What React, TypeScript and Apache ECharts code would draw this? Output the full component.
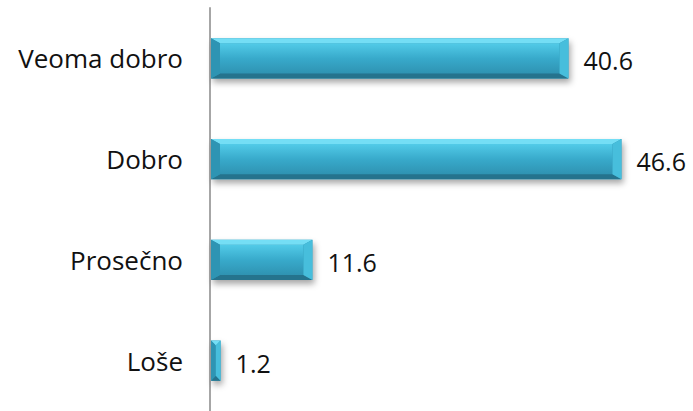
import React, { useEffect, useRef } from "react";
import * as echarts from "echarts";

const categories = ["Veoma dobro", "Dobro", "Prosečno", "Loše"];
const values = [40.6, 46.6, 11.6, 1.2];
const axisMax = 50;

export default function App() {
  const ref = useRef<HTMLDivElement>(null);
  useEffect(() => {
    if (!ref.current) return;
    const chart = echarts.init(ref.current, null, { renderer: "svg" });
    const faceGrad = new echarts.graphic.LinearGradient(0, 0, 0, 1, [
      { offset: 0, color: "#52cbe8" },
      { offset: 0.5, color: "#38aacb" },
      { offset: 1, color: "#2f93b2" },
    ]);
    const renderItem = (params: any, api: any) => {
      const cat = api.value(0);
      const v = api.value(1);
      const s = api.coord([0, cat]);
      const e = api.coord([v, cat]);
      const h = api.size([0, 1])[1] * 0.4;
      const x0 = s[0] + 1;
      const x1 = e[0];
      const yc = s[1];
      const y0 = yc - h / 2;
      const y1 = yc + h / 2;
      const bx = Math.min(9, (x1 - x0) / 2);
      const by = Math.min(5, h / 2);
      return {
        type: "group",
        children: [
          {
            type: "rect",
            shape: { x: x0, y: y0, width: x1 - x0, height: h },
            style: {
              fill: "#2f93b2",
              shadowBlur: 6,
              shadowOffsetX: 2,
              shadowOffsetY: 4,
              shadowColor: "rgba(0,0,0,0.35)",
            },
          },
          {
            type: "rect",
            shape: { x: x0 + bx, y: y0 + by, width: x1 - x0 - 2 * bx, height: h - 2 * by },
            style: { fill: faceGrad },
          },
          {
            type: "polygon",
            shape: { points: [[x0, y0], [x1, y0], [x1 - bx, y0 + by], [x0 + bx, y0 + by]] },
            style: { fill: "#74def5" },
          },
          {
            type: "polygon",
            shape: { points: [[x0, y1], [x1, y1], [x1 - bx, y1 - by], [x0 + bx, y1 - by]] },
            style: { fill: "#25738d" },
          },
          {
            type: "polygon",
            shape: { points: [[x0, y0], [x0 + bx, y0 + by], [x0 + bx, y1 - by], [x0, y1]] },
            style: { fill: "#2e94b3" },
          },
          {
            type: "polygon",
            shape: { points: [[x1, y0], [x1 - bx, y0 + by], [x1 - bx, y1 - by], [x1, y1]] },
            style: { fill: "#47bedc" },
          },
          {
            type: "text",
            style: {
              text: String(v),
              x: x1 + 15,
              y: yc + 2,
              fill: "#111",
              fontSize: 25,
              fontFamily: "Open Sans",
              align: "left",
              verticalAlign: "middle",
            },
          },
        ],
      };
    };
    chart.setOption({
      animation: false,
      grid: { left: 210, right: 693 - 210 - axisMax * 8.83, top: 8, height: 407, containLabel: false },
      xAxis: { type: "value", min: 0, max: axisMax, show: false },
      yAxis: {
        type: "category",
        data: categories,
        inverse: true,
        axisLine: { show: true, lineStyle: { color: "#a6a6a6", width: 2 } },
        axisTick: { show: false },
        splitLine: { show: false },
        axisLabel: { fontSize: 26, color: "#111", margin: 27, fontFamily: "Open Sans" },
      },
      series: [
        {
          type: "custom",
          renderItem,
          encode: { x: 1, y: 0 },
          data: values.map((v, i) => [i, v]),
          z: 3,
        },
      ],
    });
    return () => chart.dispose();
  }, []);
  return (
    <div
      ref={ref}
      style={{ position: "fixed", left: 0, top: 0, width: 693, height: 411, background: "#fff" }}
    />
  );
}
